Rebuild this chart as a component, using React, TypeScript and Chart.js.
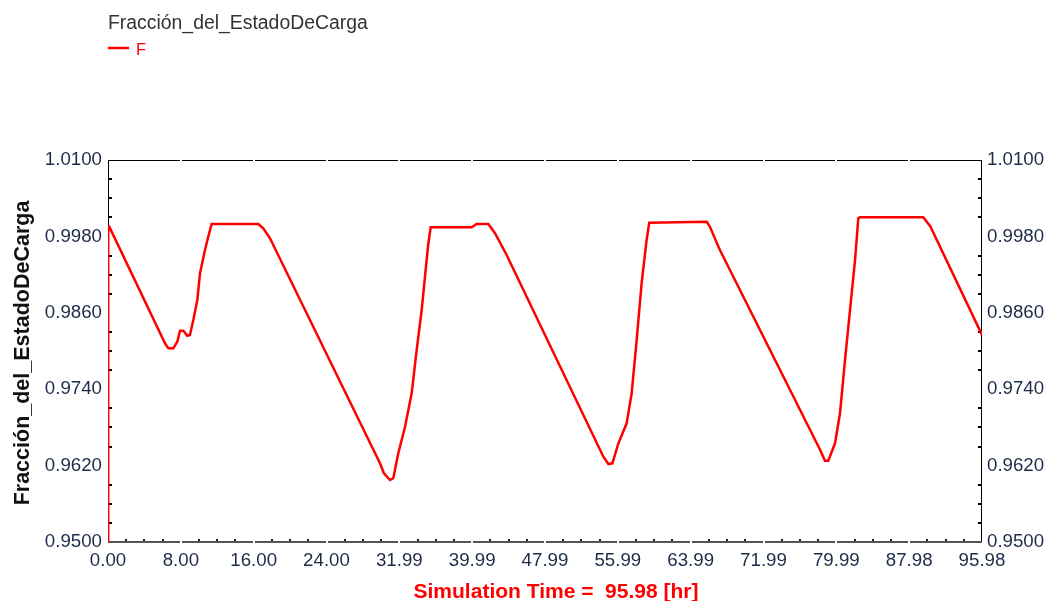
import React, { useEffect, useRef } from 'react';
import { Chart, registerables } from 'chart.js';

Chart.register(...registerables);

// Header and axis texts
const legendTitle = 'Fracción_del_EstadoDeCarga';
const seriesName = 'F';
const yAxisTitle = 'Fracción_del_EstadoDeCarga';
const xAxisTitle = 'Simulation Time =  95.98 [hr]';

// Simulation time (hours)
const timeHr = [
  0, 0.02, 0.14, 6.26, 6.63, 7.17, 7.61, 7.91, 8.27, 8.71, 9.0,
  9.37, 9.81, 10.1, 10.65, 11.01, 11.38, 16.51, 17.05, 17.79, 29.87,
  30.3, 30.97, 31.33, 31.88, 32.62, 33.35, 33.9, 34.45, 34.81, 35.18, 35.44, 39.94, 40.48,
  41.77, 42.5, 43.78, 54.4, 54.95, 55.39, 56.05, 56.96,
  57.51, 58.06, 58.6, 59.15, 59.44, 65.75, 66.1, 67.2, 78.21,
  78.74, 79.1, 79.84, 80.39, 80.94, 81.49, 82.04, 82.4, 82.58, 89.53, 90.3,
  95.983,
];

// State-of-charge fraction
const socFraction = [
  0.95, 0.9995, 0.99953, 0.98121, 0.98042, 0.98042, 0.98146, 0.98319, 0.98319, 0.9824,
  0.98251, 0.98487, 0.98801, 0.9922, 0.99586, 0.99795, 0.99995, 0.99995, 0.99927, 0.9977,
  0.96236, 0.9608, 0.95974, 0.96001, 0.96393, 0.96811, 0.97336, 0.98016, 0.98644, 0.99167,
  0.99692, 0.99943, 0.99943, 0.99995, 0.99995, 0.99849, 0.99508, 0.9634, 0.96225, 0.96236,
  0.9655, 0.96864, 0.97336, 0.98173, 0.99063, 0.99744, 1.00015, 1.00031, 0.99952, 0.99586,
  0.96445, 0.96277, 0.96277, 0.9655, 0.97021, 0.97859, 0.98644, 0.99429, 1.00084, 1.001,
  1.001, 0.9996, 0.98251,
];

const xMin = 0;
const xMax = 95.983;
const xTickLabels = [
  '0.00', '8.00', '16.00', '24.00', '31.99', '39.99', '47.99',
  '55.99', '63.99', '71.99', '79.99', '87.98', '95.98',
];
const yMin = 0.95;
const yMax = 1.01;
const yTickValues = [0.95, 0.962, 0.974, 0.986, 0.998, 1.01];
const yMinorStep = 0.003;
const xMinorPerMajor = 4;

const FONT = "'Liberation Sans', Arial, Helvetica, sans-serif";
const TICK_COLOR = '#1e2b48';
const LINE_RED = '#ff0000';

const xTickValues = xTickLabels.map((_, i) => xMin + (i * (xMax - xMin)) / (xTickLabels.length - 1));

const framePlugin = {
  id: 'frameAndTitles',
  beforeDatasetsDraw(chart: any) {
    const { ctx, chartArea } = chart;
    const { left, right, top, bottom } = chartArea;
    const xs = chart.scales.x;
    const ys = chart.scales.y;
    ctx.save();

    // frame
    ctx.strokeStyle = '#000';
    ctx.lineWidth = 1;
    ctx.beginPath();
    ctx.moveTo(left + 0.5, top);
    ctx.lineTo(left + 0.5, bottom);
    ctx.moveTo(right - 0.5, top);
    ctx.lineTo(right - 0.5, bottom);
    ctx.moveTo(left, top + 0.5);
    ctx.lineTo(right, top + 0.5);
    ctx.stroke();

    ctx.strokeStyle = '#555';
    ctx.lineWidth = 2;
    ctx.beginPath();
    ctx.moveTo(left, bottom);
    ctx.lineTo(right, bottom);
    ctx.stroke();

    // white notches at the major time ticks
    ctx.fillStyle = '#fff';
    xTickValues.forEach((v, i) => {
      if (i === 0 || i === xTickValues.length - 1) return;
      const px = Math.round(xs.getPixelForValue(v));
      ctx.fillRect(px - 1, top - 1, 2, 3);
      ctx.fillRect(px - 1, bottom - 1, 2, 3);
    });

    // minor time ticks
    ctx.fillStyle = '#222';
    for (let i = 0; i < xTickValues.length - 1; i++) {
      const a = xTickValues[i];
      const b = xTickValues[i + 1];
      for (let k = 1; k < xMinorPerMajor; k++) {
        const px = Math.round(xs.getPixelForValue(a + ((b - a) * k) / xMinorPerMajor));
        ctx.fillRect(px - 1, bottom - 3, 2, 2);
      }
    }

    // minor value ticks on both sides
    ctx.fillStyle = '#000';
    const n = Math.round((yMax - yMin) / yMinorStep);
    for (let k = 1; k < n; k++) {
      const v = yMin + k * yMinorStep;
      if (yTickValues.some((t) => Math.abs(t - v) < 1e-6)) continue;
      const py = Math.round(ys.getPixelForValue(v));
      ctx.fillRect(left, py - 1, 4, 2);
      ctx.fillRect(right - 4, py - 1, 4, 2);
    }
    ctx.restore();
  },
  afterDraw(chart: any) {
    const { ctx, chartArea } = chart;
    ctx.save();
    // header: variable name and series key
    ctx.textAlign = 'left';
    ctx.textBaseline = 'alphabetic';
    ctx.fillStyle = '#333';
    ctx.font = `19.4px ${FONT}`;
    ctx.fillText(legendTitle, 108, 29);
    ctx.strokeStyle = LINE_RED;
    ctx.lineWidth = 2.5;
    ctx.beginPath();
    ctx.moveTo(108, 48);
    ctx.lineTo(129, 48);
    ctx.stroke();
    ctx.fillStyle = LINE_RED;
    ctx.font = `16.5px ${FONT}`;
    ctx.fillText(seriesName, 136, 55);

    // y axis title
    ctx.save();
    ctx.translate(28.5, (chartArea.top + chartArea.bottom) / 2 + 2);
    ctx.rotate(-Math.PI / 2);
    ctx.textAlign = 'center';
    ctx.fillStyle = '#111';
    ctx.font = `bold 21.5px ${FONT}`;
    ctx.fillText(yAxisTitle, 0, 0);
    ctx.restore();

    // x axis title
    ctx.textAlign = 'center';
    ctx.fillStyle = LINE_RED;
    ctx.font = `bold 21px ${FONT}`;
    ctx.fillText(xAxisTitle, 556, 598);
    ctx.restore();
  },
};

export default function App() {
  const canvasRef = useRef<HTMLCanvasElement | null>(null);

  useEffect(() => {
    const canvas = canvasRef.current;
    if (!canvas) return;
    const points = timeHr.map((t, i) => ({ x: t, y: socFraction[i] }));
    const yTickFont = { family: FONT, size: 18.7 };

    const chart = new Chart(canvas, {
      type: 'line',
      data: {
        datasets: [
          {
            label: seriesName,
            data: points,
            borderColor: LINE_RED,
            backgroundColor: LINE_RED,
            borderWidth: 2.5,
            pointRadius: 0,
            tension: 0,
            fill: false,
          },
        ],
      },
      options: {
        responsive: false,
        animation: false,
        devicePixelRatio: 1,
        layout: { padding: { top: 160, left: 0, right: 0, bottom: 0 } },
        plugins: {
          legend: { display: false },
          tooltip: { enabled: false },
          title: { display: false },
        },
        scales: {
          x: {
            type: 'linear',
            position: 'bottom',
            min: xMin,
            max: xMax,
            grid: { display: false, drawTicks: false },
            border: { display: false },
            afterBuildTicks: (scale: any) => {
              scale.ticks = xTickValues.map((v) => ({ value: v }));
            },
            afterFit: (scale: any) => {
              scale.height = 59;
            },
            ticks: {
              autoSkip: false,
              maxRotation: 0,
              minRotation: 0,
              padding: 8,
              color: TICK_COLOR,
              font: { family: FONT, size: 18.7 },
              callback: (_v: any, i: number) => xTickLabels[i],
            },
          },
          y: {
            type: 'linear',
            position: 'left',
            min: yMin,
            max: yMax,
            grid: { display: false, drawTicks: false },
            border: { display: false },
            afterBuildTicks: (scale: any) => {
              scale.ticks = yTickValues.map((v) => ({ value: v }));
            },
            afterFit: (scale: any) => {
              scale.width = 108;
            },
            ticks: {
              padding: 6,
              color: TICK_COLOR,
              font: yTickFont,
              callback: (v: any) => Number(v).toFixed(4),
            },
          },
          y2: {
            type: 'linear',
            position: 'right',
            min: yMin,
            max: yMax,
            grid: { display: false, drawTicks: false },
            border: { display: false },
            afterBuildTicks: (scale: any) => {
              scale.ticks = yTickValues.map((v) => ({ value: v }));
            },
            afterFit: (scale: any) => {
              scale.width = 69;
            },
            ticks: {
              padding: 5,
              color: TICK_COLOR,
              font: yTickFont,
              callback: (v: any) => Number(v).toFixed(4),
            },
          },
        },
      } as any,
      plugins: [framePlugin],
    });

    return () => {
      chart.destroy();
    };
  }, []);

  return (
    <div style={{ position: 'absolute', left: 0, top: 0, width: 1051, height: 601, background: '#fff' }}>
      <canvas ref={canvasRef} width={1051} height={601} style={{ display: 'block', width: 1051, height: 601 }} />
    </div>
  );
}
